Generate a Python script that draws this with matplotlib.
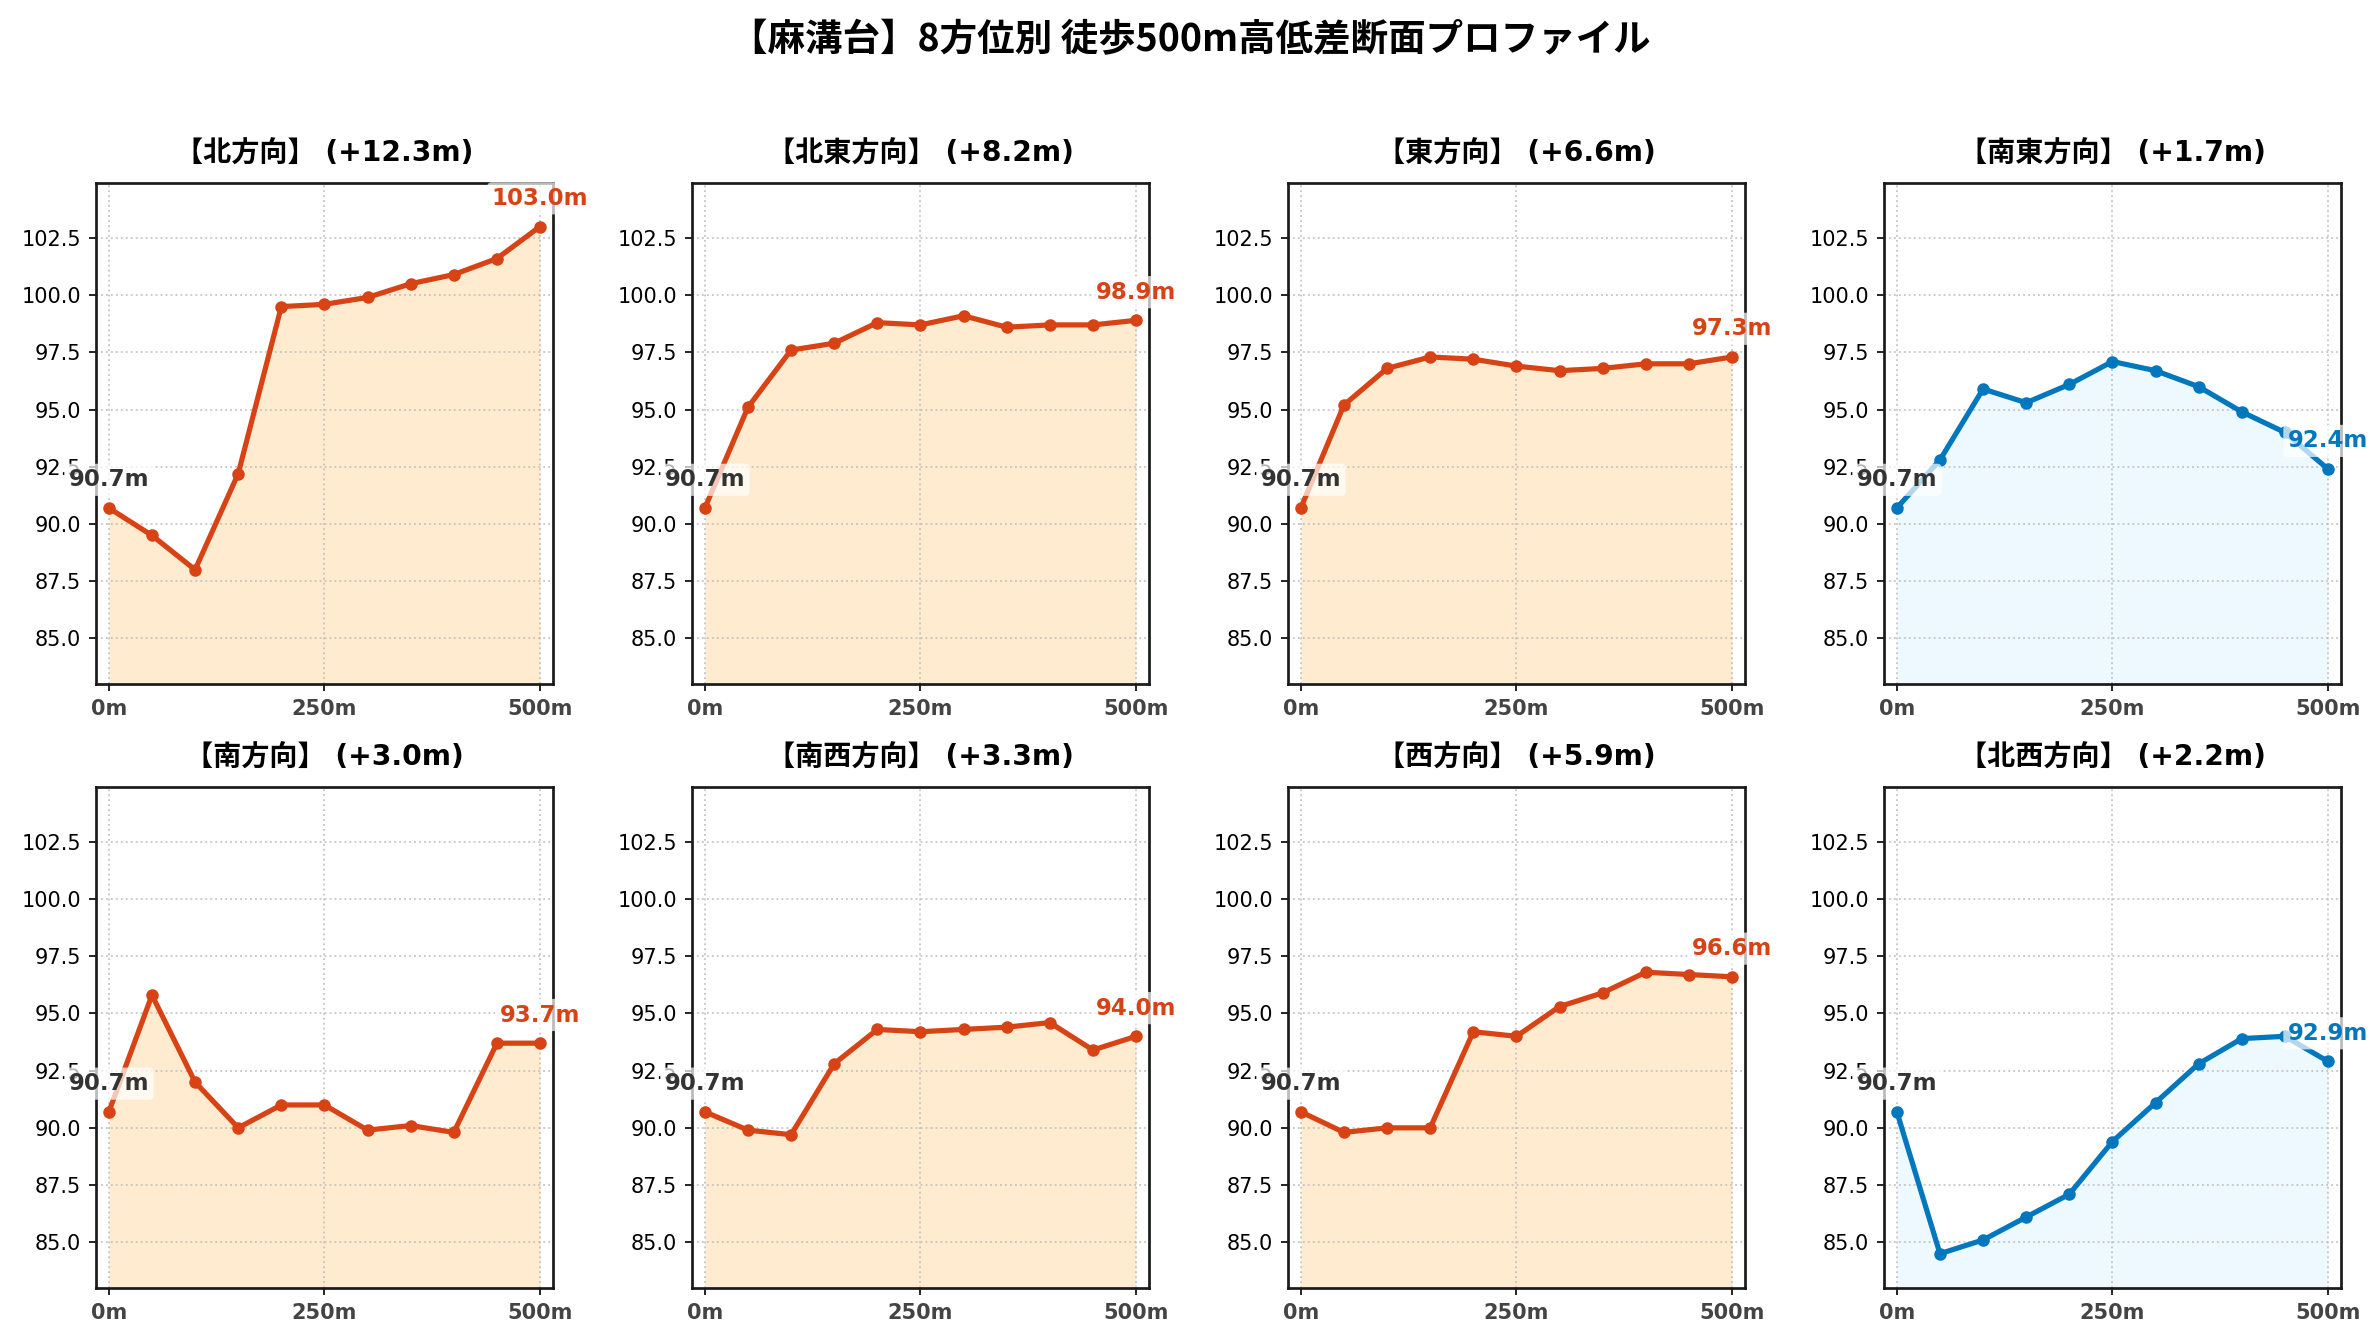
import matplotlib
matplotlib.use("Agg")
import matplotlib.pyplot as plt
import numpy as np

plt.rcParams['font.family'] = ['DejaVu Sans', 'Noto Sans CJK JP']

place = "麻溝台"
directions = ["北", "北東", "東", "南東", "南", "南西", "西", "北西"]
dist = [0, 50, 100, 150, 200, 250, 300, 350, 400, 450, 500]

elev_n = [90.7, 89.5, 88.0, 92.2, 99.5, 99.6, 99.9, 100.5, 100.9, 101.6, 103.0]
elev_ne = [90.7, 95.1, 97.6, 97.9, 98.8, 98.7, 99.1, 98.6, 98.7, 98.7, 98.9]
elev_e = [90.7, 95.2, 96.8, 97.3, 97.2, 96.9, 96.7, 96.8, 97.0, 97.0, 97.3]
elev_se = [90.7, 92.8, 95.9, 95.3, 96.1, 97.1, 96.7, 96.0, 94.9, 94.0, 92.4]
elev_s = [90.7, 95.8, 92.0, 90.0, 91.0, 91.0, 89.9, 90.1, 89.8, 93.7, 93.7]
elev_sw = [90.7, 89.9, 89.7, 92.8, 94.3, 94.2, 94.3, 94.4, 94.6, 93.4, 94.0]
elev_w = [90.7, 89.8, 90.0, 90.0, 94.2, 94.0, 95.3, 95.9, 96.8, 96.7, 96.6]
elev_nw = [90.7, 84.5, 85.1, 86.1, 87.1, 89.4, 91.1, 92.8, 93.9, 94.0, 92.9]

profiles = [elev_n, elev_ne, elev_e, elev_se, elev_s, elev_sw, elev_w, elev_nw]

all_vals = np.concatenate(profiles)
y_lo = all_vals.min() - 1.5
y_hi = all_vals.max() + 1.9

fig, axes = plt.subplots(2, 4, figsize=(2380 / 150, 1340 / 150), dpi=150)
fig.subplots_adjust(left=0.0403, right=0.9836, top=0.8634, bottom=0.0388,
                    wspace=0.304, hspace=0.205)

for ax, name, elev in zip(axes.flat, directions, profiles):
    elev = np.array(elev)
    diff = elev[-1] - elev[0]
    # climbing routes in orange, flatter ones in blue
    if diff >= 3:
        line_c, fill_c = '#D84315', '#FFE0B2'
    else:
        line_c, fill_c = '#0277BD', '#E1F5FE'

    ax.fill_between(dist, elev, y_lo, color=fill_c, alpha=0.6, lw=0)
    ax.plot(dist, elev, color=line_c, lw=2.5, marker='o', markersize=5)

    ax.annotate(f"{elev[0]:.1f}m", (dist[0], elev[0]), xytext=(0, 8),
                textcoords='offset points', ha='center', va='bottom',
                fontsize=11, fontweight='bold', color='#333333',
                bbox=dict(boxstyle='round,pad=0.2', fc='white', ec='none', alpha=0.7))
    ax.annotate(f"{elev[-1]:.1f}m", (dist[-1], elev[-1]), xytext=(0, 8),
                textcoords='offset points', ha='center', va='bottom',
                fontsize=11, fontweight='bold', color=line_c,
                bbox=dict(boxstyle='round,pad=0.2', fc='white', ec='none', alpha=0.7))

    ax.set_title(f"【{name}方向】 (+{diff:.1f}m)", fontsize=13.5, fontweight='bold', pad=10)
    ax.set_xlim(-15, 515)
    ax.set_ylim(y_lo, y_hi)
    ax.set_xticks([0, 250, 500])
    ax.set_xticklabels(["0m", "250m", "500m"], fontweight='bold', color='#444444')
    ax.tick_params(labelsize=10)
    ax.grid(True, linestyle=':', color='#BBBBBB', linewidth=0.9, alpha=0.8)
    for sp in ax.spines.values():
        sp.set_linewidth(1.3)
        sp.set_color('#1a1a1a')

fig.suptitle(f"【{place}】8方位別 徒歩500m高低差断面プロファイル",
             fontsize=18, fontweight='bold', family='Noto Sans CJK JP', y=0.985)

fig.savefig("out.png", dpi=150)
